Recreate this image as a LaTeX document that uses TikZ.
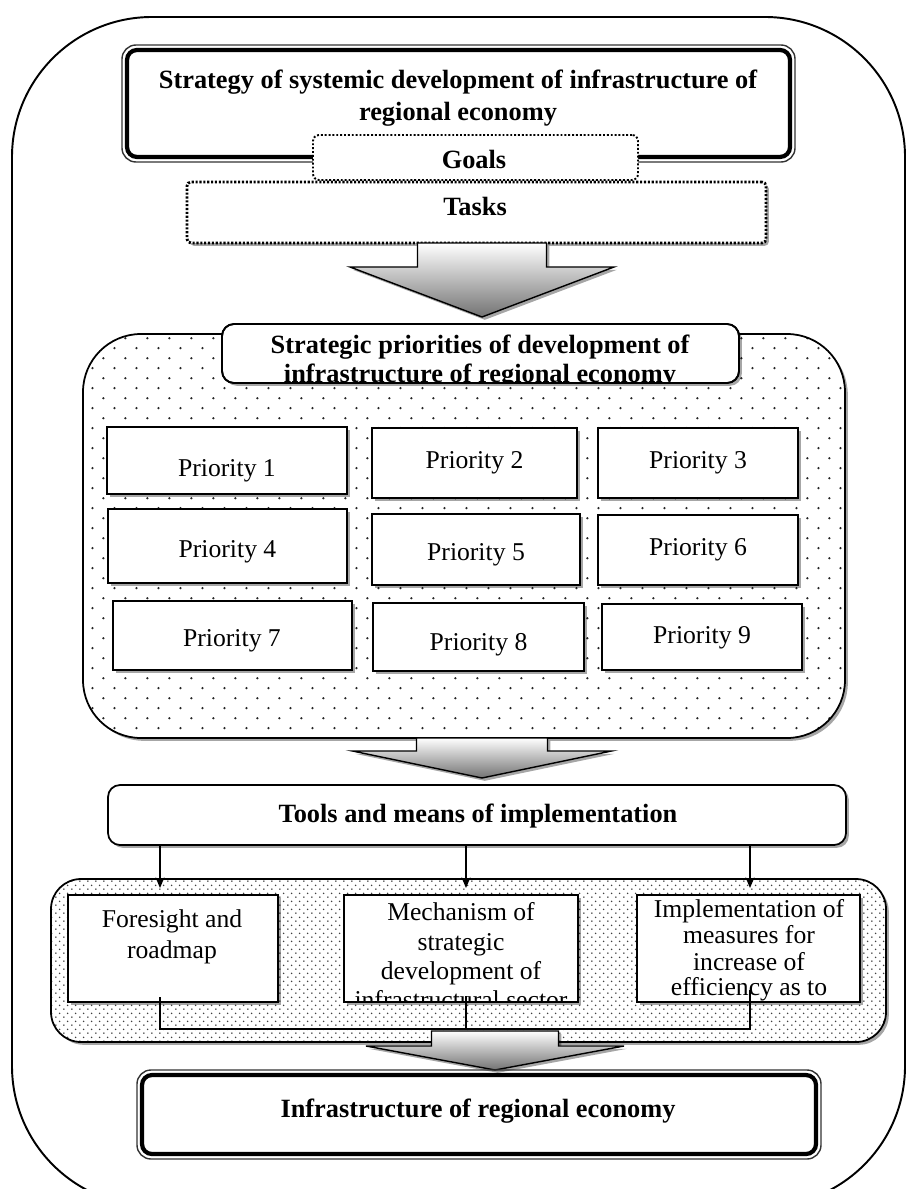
\documentclass[tikz,border=0pt]{standalone}
\usepackage{fontspec}
\setmainfont{Liberation Serif}
\usetikzlibrary{shadows,patterns,fit,calc,arrows.meta}
\newlength\upx
\setlength\upx{0.02cm}
\pgfdeclarepatternformonly{sparsedots}{\pgfqpoint{0pt}{0pt}}{\pgfqpoint{12.5pt}{11.3pt}}{\pgfqpoint{12.5pt}{11.3pt}}{%
  \pgfpathcircle{\pgfqpoint{3.1pt}{2.8pt}}{0.7pt}%
  \pgfpathcircle{\pgfqpoint{9.35pt}{8.45pt}}{0.7pt}%
  \pgfusepath{fill}}
\pgfdeclarepatternformonly{densedots}{\pgfqpoint{0pt}{0pt}}{\pgfqpoint{4.4pt}{4.4pt}}{\pgfqpoint{4.4pt}{4.4pt}}{%
  \pgfpathcircle{\pgfqpoint{1.1pt}{1.1pt}}{0.5pt}%
  \pgfpathcircle{\pgfqpoint{3.3pt}{3.3pt}}{0.5pt}%
  \pgfusepath{fill}}
\newcommand\blkarrow[6]{%
  \draw[blockarr] (#1-#5,#2) -- (#1+#5,#2) -- (#1+#5,#3) -- (#1+#6,#3) -- (#1,#4) -- (#1-#6,#3) -- (#1-#5,#3) -- cycle;}
\begin{document}
\begin{tikzpicture}[x=0.02cm,y=-0.02cm,
  shad/.style={drop shadow={shadow xshift=1.6pt,shadow yshift=-1.6pt,opacity=0.35,fill=black}},
  fitbox/.style={inner sep=0pt,outer sep=0pt},
  pbox/.style={fitbox,draw,line width=1.1pt,fill=white,shad},
  bt/.style={inner sep=0pt,anchor=base,font=\fontsize{15}{18}\selectfont\bfseries},
  rt/.style={inner sep=0pt,anchor=base,font=\fontsize{14.6}{17}\selectfont},
  blockarr/.style={draw=black,line width=0.8pt,top color=white,bottom color=black!55,shad,line join=miter},
  arr/.style={line width=1pt,-{Stealth[length=6pt,width=5pt]}},
  conn/.style={line width=0.8pt}]
\useasboundingbox (0,0) rectangle (909,1189);
% outer frame
\draw[line width=1.1pt,rounded corners=140\upx] (12,17) rectangle (905,1206);

% strategy box
\node[fitbox,draw,line width=2.4pt,rounded corners=10\upx,fill=white,fit={(127,50)(790,157)}] (strat) {};
\draw[line width=0.8pt,black!80,rounded corners=14\upx] ([shift={(-5,-5)}]strat.north west) rectangle ([shift={(5,5)}]strat.south east);
\node[bt] (strat1) at (458,89) {Strategy of systemic development of infrastructure of};
\node[bt] (strat2) at (458,121) {regional economy};

% goals and tasks
\node[fitbox,draw,fill=white,line width=1.1pt,dash pattern=on 1.1pt off 1.1pt,rounded corners=6\upx,fit={(313,135)(638,180)}] (goals) {};
\node[bt] (tgoals) at (474,169) {Goals};
\node[fitbox,draw,fill=white,line width=1.6pt,dash pattern=on 1.2pt off 1pt,rounded corners=4\upx,shad,fit={(187,182)(766,243)}] (tasks) {};
\node[bt] (ttasks) at (475,216) {Tasks};

% arrow 1
\blkarrow{482}{243}{267}{317}{64.5}{132}

% priorities panel
\node[fitbox,draw,line width=1pt,rounded corners=58\upx,shad,preaction={fill=white},pattern=sparsedots,pattern color=black!85,fit={(83,334)(845,738)}] (prpanel) {};
\node[fitbox,draw,line width=1pt,fill=white,rounded corners=12\upx,shad,fit={(222,324)(739,383)}] (prtitle) {};
\begin{scope}
\clip[rounded corners=12\upx] (prtitle.north west) rectangle (prtitle.south east);
\node[bt] (prt1) at (480,353) {Strategic priorities of development of};
\node[bt] (prt2) at (480,382) {infrastructure of regional economy};
\end{scope}
\draw[line width=1pt,rounded corners=12\upx] (prtitle.north west) rectangle (prtitle.south east);

\node[pbox,fit={(107,427)(347,494)}] (p1) {};
\node[pbox,fit={(372,428)(577,498)}] (p2) {};
\node[pbox,fit={(598,428)(798,498)}] (p3) {};
\node[pbox,fit={(108,509)(347,583)}] (p4) {};
\node[pbox,fit={(372,514)(580,585)}] (p5) {};
\node[pbox,fit={(598,515)(798,585)}] (p6) {};
\node[pbox,fit={(113,601)(352,670)}] (p7) {};
\node[pbox,fit={(373,603)(584,671)}] (p8) {};
\node[pbox,fit={(602,604)(802,670)}] (p9) {};
\node[rt] (tp1) at (227,476) {Priority 1};
\node[rt] (tp2) at (474.5,468) {Priority 2};
\node[rt] (tp3) at (698,468) {Priority 3};
\node[rt] (tp4) at (227.5,557) {Priority 4};
\node[rt] (tp5) at (476,560) {Priority 5};
\node[rt] (tp6) at (698,555) {Priority 6};
\node[rt] (tp7) at (232,646) {Priority 7};
\node[rt] (tp8) at (478.5,650) {Priority 8};
\node[rt] (tp9) at (702,643) {Priority 9};

% arrow 2
\blkarrow{482}{738}{751}{778}{65.5}{129.5}

% tools
\node[fitbox,draw,line width=1pt,fill=white,rounded corners=12\upx,shad,fit={(108,785)(846,845)}] (tools) {};
\node[bt] (ttools) at (478,822) {Tools and means of implementation};

% bottom panel
\node[fitbox,draw,line width=1pt,rounded corners=30\upx,shad,preaction={fill=white},pattern=densedots,pattern color=black!75,fit={(51,879)(886,1042)}] (btpanel) {};
\node[pbox,fit={(68,895)(278,1002)}] (fore) {};
\node[pbox,fit={(344,895)(578,1002)}] (mech) {};
\node[pbox,fit={(637,895)(860,1002)}] (impl) {};

\node[rt] (tf1) at (172,927) {Foresight and};
\node[rt] (tf2) at (172,958) {roadmap};
\begin{scope}
\clip (mech.north west) rectangle (mech.south east);
\node[rt] (tm1) at (461,920) {Mechanism of};
\node[rt] (tm2) at (461,950) {strategic};
\node[rt] (tm3) at (461,979) {development of};
\node[rt] (tm4) at (461,1008) {infrastructural sector};
\end{scope}
\draw[line width=1.1pt] (mech.north west) rectangle (mech.south east);
\node[rt] (ti1) at (749,917) {Implementation of};
\node[rt] (ti2) at (749,943) {measures for};
\node[rt] (ti3) at (749,970) {increase of};
\node[rt] (ti4) at (749,995) {efficiency as to};

% columns
\coordinate (c1) at (160,0);
\coordinate (c2) at (466,0);
\coordinate (c3) at (750,0);
\coordinate (hl) at (0,1029);
\draw[arr] (c1 |- tools.south) -- ($(c1 |- fore.north)+(0,-7)$);
\draw[arr] (c2 |- tools.south) -- ($(c2 |- mech.north)+(0,-7)$);
\draw[arr] (c3 |- tools.south) -- ($(c3 |- impl.north)+(0,-7)$);

\draw[conn] (c1 |- fore.south) ++(0,-5) -- (c1 |- hl) -- (c3 |- hl) -- ($(c3 |- impl.south)+(0,-12)$);
\draw[conn] (c2 |- mech.south) ++(0,-6) -- (c2 |- hl);

% arrow 3
\blkarrow{495}{1031}{1046}{1070}{63.5}{129}

% infrastructure box
\node[fitbox,draw,line width=2.4pt,rounded corners=10\upx,fill=white,fit={(142,1075)(816,1154)}] (infra) {};
\draw[line width=0.8pt,black!80,rounded corners=14\upx] ([shift={(-5,-5)}]infra.north west) rectangle ([shift={(5,5)}]infra.south east);
\node[bt] (tinfra) at (478,1117) {Infrastructure of regional economy};
\end{tikzpicture}
\end{document}
